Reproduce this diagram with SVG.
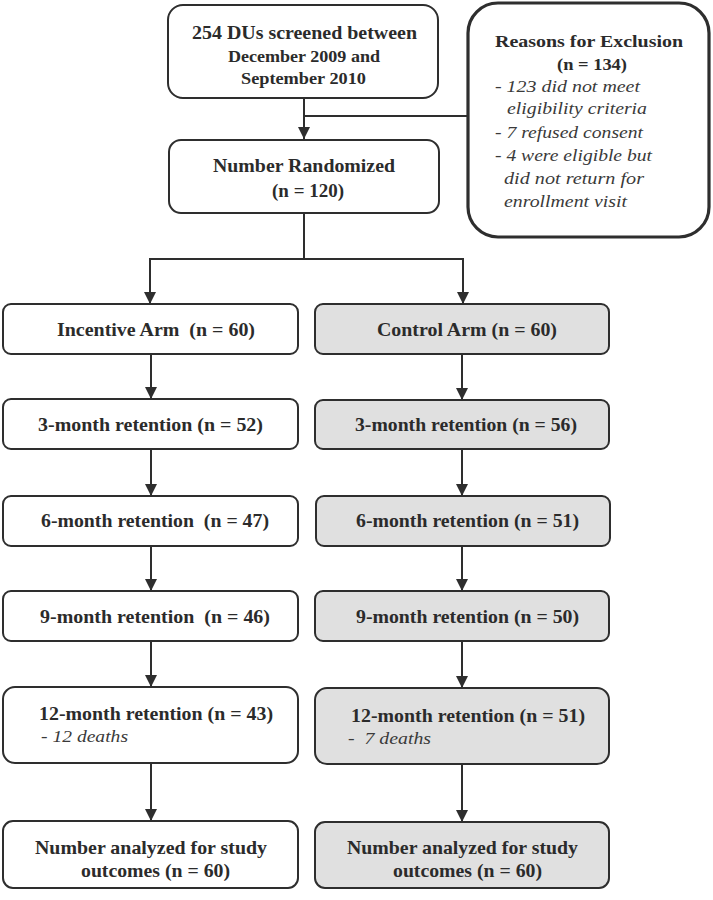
<svg xmlns="http://www.w3.org/2000/svg" width="713" height="900" viewBox="0 0 713 900">
<style>
.box{fill:#fff;stroke:#2e2e2e;stroke-width:2}
.grey{fill:#e0e0e0}
.excl{fill:#fff;stroke:#2e2e2e;stroke-width:3.2}
.b{font-family:'Liberation Serif','Times New Roman',Times,Tinos,'Nimbus Roman',serif;font-weight:bold;font-size:19px;fill:#2b2b2b}
.bs{font-family:'Liberation Serif','Times New Roman',Times,Tinos,'Nimbus Roman',serif;font-weight:bold;font-size:17px;fill:#2b2b2b}
.i{font-family:'Liberation Serif','Times New Roman',Times,Tinos,'Nimbus Roman',serif;font-style:italic;font-size:17px;fill:#3a3a3a}
.c{stroke:#2e2e2e;stroke-width:2;fill:none}
</style>
<defs>
<marker id="ah" markerUnits="userSpaceOnUse" markerWidth="12" markerHeight="12" viewBox="0 0 12 12" refX="12" refY="6" orient="auto">
<path d="M0,0 L12,6 L0,12 Z" fill="#2e2e2e"/>
</marker>
</defs>

<g id="connectors">
<line class="c" x1="304" y1="98" x2="304" y2="139" marker-end="url(#ah)"/>
<line class="c" x1="303" y1="116" x2="469" y2="116"/>
<line class="c" x1="304" y1="213" x2="304" y2="259"/>
<line class="c" x1="149" y1="259" x2="464" y2="259"/>
<line class="c" x1="150" y1="258" x2="150" y2="304" marker-end="url(#ah)"/>
<line class="c" x1="463" y1="258" x2="463" y2="304" marker-end="url(#ah)"/>
<line class="c" x1="151" y1="354" x2="151" y2="399" marker-end="url(#ah)"/>
<line class="c" x1="151" y1="449" x2="151" y2="496" marker-end="url(#ah)"/>
<line class="c" x1="151" y1="546" x2="151" y2="591" marker-end="url(#ah)"/>
<line class="c" x1="151" y1="641" x2="151" y2="687" marker-end="url(#ah)"/>
<line class="c" x1="151" y1="763" x2="151" y2="821" marker-end="url(#ah)"/>
<line class="c" x1="462" y1="354" x2="462" y2="400" marker-end="url(#ah)"/>
<line class="c" x1="462" y1="449" x2="462" y2="496" marker-end="url(#ah)"/>
<line class="c" x1="462" y1="546" x2="462" y2="591" marker-end="url(#ah)"/>
<line class="c" x1="462" y1="641" x2="462" y2="688" marker-end="url(#ah)"/>
<line class="c" x1="462" y1="764" x2="462" y2="822" marker-end="url(#ah)"/>
</g>

<g id="screened">
<rect class="box" x="168" y="5" width="270" height="93" rx="15"/>
<text class="bs" x="192" y="39" textLength="225" lengthAdjust="spacingAndGlyphs" style="font-size:18px">254 DUs screened between</text>
<text class="bs" x="228" y="62" textLength="152" lengthAdjust="spacingAndGlyphs">December 2009 and</text>
<text class="bs" x="241" y="84" textLength="125" lengthAdjust="spacingAndGlyphs">September 2010</text>
</g>

<g id="exclusion">
<rect class="excl" x="468" y="3" width="241" height="234" rx="30"/>
<text class="bs" x="495" y="47" textLength="188" lengthAdjust="spacingAndGlyphs">Reasons for Exclusion</text>
<text class="bs" x="557" y="70" textLength="70" lengthAdjust="spacingAndGlyphs">(n = 134)</text>
<text class="i" x="495" y="92" textLength="145" lengthAdjust="spacingAndGlyphs">- 123 did not meet</text>
<text class="i" x="507" y="114" textLength="140" lengthAdjust="spacingAndGlyphs">eligibility criteria</text>
<text class="i" x="495" y="138" textLength="148" lengthAdjust="spacingAndGlyphs">- 7 refused consent</text>
<text class="i" x="495" y="161" textLength="157" lengthAdjust="spacingAndGlyphs">- 4 were eligible but</text>
<text class="i" x="504" y="184" textLength="140" lengthAdjust="spacingAndGlyphs">did not return for</text>
<text class="i" x="504" y="207" textLength="123" lengthAdjust="spacingAndGlyphs">enrollment visit</text>
</g>

<g id="randomized">
<rect class="box" x="169" y="140" width="270" height="73" rx="12"/>
<text class="b" x="213" y="172" textLength="182" lengthAdjust="spacingAndGlyphs">Number Randomized</text>
<text class="b" x="272" y="197" textLength="72" lengthAdjust="spacingAndGlyphs">(n = 120)</text>
</g>

<g id="incentive">
<rect class="box" x="3" y="304" width="295" height="50" rx="8"/>
<text class="b" x="57" y="336" textLength="198" lengthAdjust="spacingAndGlyphs" xml:space="preserve">Incentive Arm  (n = 60)</text>
</g>
<g id="control">
<rect class="box grey" x="315" y="304" width="294" height="50" rx="8"/>
<text class="b" x="377" y="336" textLength="180" lengthAdjust="spacingAndGlyphs">Control Arm (n = 60)</text>
</g>

<g id="inc3">
<rect class="box" x="3" y="399" width="295" height="50" rx="8"/>
<text class="b" x="38" y="431" textLength="225" lengthAdjust="spacingAndGlyphs">3-month retention (n = 52)</text>
</g>
<g id="con3">
<rect class="box grey" x="315" y="400" width="294" height="49" rx="8"/>
<text class="b" x="355" y="431" textLength="222" lengthAdjust="spacingAndGlyphs">3-month retention (n = 56)</text>
</g>

<g id="inc6">
<rect class="box" x="3" y="496" width="295" height="50" rx="8"/>
<text class="b" x="41" y="527" textLength="228" lengthAdjust="spacingAndGlyphs" xml:space="preserve">6-month retention  (n = 47)</text>
</g>
<g id="con6">
<rect class="box grey" x="316" y="496" width="294" height="50" rx="8"/>
<text class="b" x="356" y="527" textLength="223" lengthAdjust="spacingAndGlyphs">6-month retention (n = 51)</text>
</g>

<g id="inc9">
<rect class="box" x="3" y="591" width="295" height="50" rx="8"/>
<text class="b" x="40" y="623" textLength="230" lengthAdjust="spacingAndGlyphs" xml:space="preserve">9-month retention  (n = 46)</text>
</g>
<g id="con9">
<rect class="box grey" x="315" y="591" width="294" height="50" rx="8"/>
<text class="b" x="356" y="623" textLength="223" lengthAdjust="spacingAndGlyphs">9-month retention (n = 50)</text>
</g>

<g id="inc12">
<rect class="box" x="3" y="687" width="295" height="76" rx="12"/>
<text class="b" x="39" y="720" textLength="234" lengthAdjust="spacingAndGlyphs">12-month retention (n = 43)</text>
<text class="i" x="41" y="742" textLength="87" lengthAdjust="spacingAndGlyphs">- 12 deaths</text>
</g>
<g id="con12">
<rect class="box grey" x="315" y="688" width="294" height="76" rx="12"/>
<text class="b" x="351" y="722" textLength="234" lengthAdjust="spacingAndGlyphs">12-month retention (n = 51)</text>
<text class="i" x="348" y="744" textLength="83" lengthAdjust="spacingAndGlyphs" xml:space="preserve">-  7 deaths</text>
</g>

<g id="incAnalyzed">
<rect class="box" x="3" y="821" width="295" height="67" rx="10"/>
<text class="b" x="35" y="854" textLength="232" lengthAdjust="spacingAndGlyphs">Number analyzed for study</text>
<text class="b" x="81" y="877" textLength="149" lengthAdjust="spacingAndGlyphs">outcomes (n = 60)</text>
</g>
<g id="conAnalyzed">
<rect class="box grey" x="315" y="822" width="294" height="66" rx="10"/>
<text class="b" x="347" y="854" textLength="231" lengthAdjust="spacingAndGlyphs">Number analyzed for study</text>
<text class="b" x="393" y="877" textLength="149" lengthAdjust="spacingAndGlyphs">outcomes (n = 60)</text>
</g>
</svg>
